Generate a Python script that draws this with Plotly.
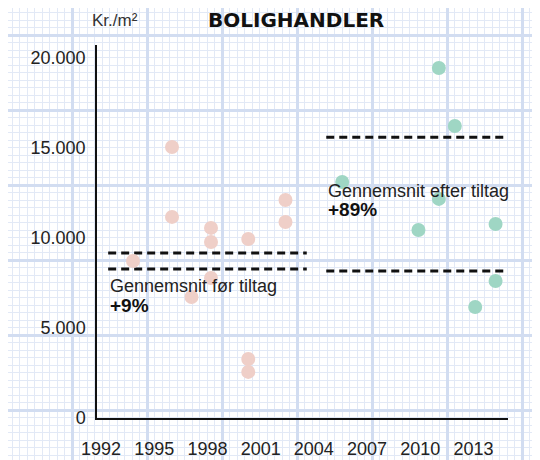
import plotly.graph_objects as go

# ---- data ----
years_before = [1993.8, 1996.0, 1996.0, 1997.1, 1998.2, 1998.2, 1998.2, 2000.3, 2000.3, 2000.3, 2002.4, 2002.4]
prices_before = [8720, 15050, 11170, 6720, 10560, 9780, 7780, 9940, 3280, 2560, 12110, 10890]

years_after = [2005.6, 2009.9, 2011.05, 2011.05, 2011.95, 2013.1, 2014.25, 2014.25]
prices_after = [13110, 10440, 19440, 12170, 16220, 6170, 10780, 7610]

span_before = [1992.4, 2003.6]
avg_lines_before = [9170, 8280]
span_after = [2004.7, 2014.95]
avg_lines_after = [15600, 8170]

x_ticks = [1992, 1995, 1998, 2001, 2004, 2007, 2010, 2013]
y_ticks = [0, 5000, 10000, 15000, 20000]
y_tick_text = ["0", "5.000", "10.000", "15.000", "20.000"]

# The page body has an 8px margin, so the figure is drawn 8px in from the window edge.
OFF = 8
W, H = 540 - OFF, 460 - OFF
FONT = "Liberation Sans, Arial, sans-serif"


def px(sx):
    """screen x -> paper fraction"""
    return (sx - OFF) / W


def py(sy):
    """screen y (from top) -> paper fraction"""
    return 1 - (sy - OFF) / H


fig = go.Figure()

# invisible trace to hold the graph-paper background axes
fig.add_trace(go.Scatter(x=[0], y=[0], mode="markers", marker=dict(opacity=0),
                         hoverinfo="skip", showlegend=False, xaxis="x", yaxis="y"))

for v in avg_lines_before:
    fig.add_trace(go.Scatter(x=span_before, y=[v, v], mode="lines",
                             line=dict(color="#111111", width=3, dash="8px,5px"),
                             showlegend=False, hoverinfo="skip", xaxis="x2", yaxis="y2"))
for v in avg_lines_after:
    fig.add_trace(go.Scatter(x=span_after, y=[v, v], mode="lines",
                             line=dict(color="#111111", width=3, dash="8px,5px"),
                             showlegend=False, hoverinfo="skip", xaxis="x2", yaxis="y2"))

fig.add_trace(go.Scatter(x=years_before, y=prices_before, mode="markers",
                         marker=dict(size=14, color="#efcfc8"),
                         showlegend=False, xaxis="x2", yaxis="y2"))
fig.add_trace(go.Scatter(x=years_after, y=prices_after, mode="markers",
                         marker=dict(size=14, color="#9fd6c4"),
                         showlegend=False, xaxis="x2", yaxis="y2"))

ann_font = dict(family=FONT, size=18, color="#222222")
bold_font = dict(family=FONT, size=19, color="#111111")

annotations = [
    dict(text="BOLIGHANDLER", xref="paper", yref="paper", x=px(296), y=py(20),
         xanchor="center", yanchor="middle", showarrow=False,
         font=dict(family="DejaVu Sans, sans-serif", size=20, color="#111111", weight="bold")),
    dict(text="Kr./m²", xref="paper", yref="paper", x=px(90), y=py(20),
         xanchor="left", yanchor="middle", showarrow=False,
         font=dict(family=FONT, size=17, color="#333333")),
    dict(text="Gennemsnit før tiltag", xref="x2", yref="y2", x=span_before[0], y=7333,
         xanchor="left", yanchor="middle", showarrow=False, font=ann_font),
    dict(text="<b>+9%</b>", xref="x2", yref="y2", x=span_before[0], y=6250,
         xanchor="left", yanchor="middle", showarrow=False, font=bold_font),
    dict(text="Gennemsnit efter tiltag", xref="x2", yref="y2", x=span_after[0], y=12610,
         xanchor="left", yanchor="middle", showarrow=False, font=ann_font),
    dict(text="<b>+89%</b>", xref="x2", yref="y2", x=span_after[0], y=11580,
         xanchor="left", yanchor="middle", showarrow=False, font=bold_font),
]

fig.update_layout(
    template="none",
    width=W, height=H,
    margin=dict(l=0, r=0, t=0, b=0, pad=0, autoexpand=False),
    paper_bgcolor="white", plot_bgcolor="rgba(0,0,0,0)",
    showlegend=False,
    annotations=annotations,
    # graph-paper background (ranges in screen pixels)
    xaxis=dict(domain=[0, 1], range=[OFF, 540], fixedrange=True, automargin=False,
               showgrid=True, gridcolor="#d2ddf1", gridwidth=2.5, tick0=-3, dtick=75,
               minor=dict(showgrid=True, gridcolor="#e2e9f6", gridwidth=1, tick0=-3, dtick=7.5),
               showticklabels=False, zeroline=False, showline=False, ticks=""),
    yaxis=dict(domain=[0, 1], range=[460, OFF], fixedrange=True, automargin=False,
               showgrid=True, gridcolor="#d2ddf1", gridwidth=2.5, tick0=35, dtick=75,
               minor=dict(showgrid=True, gridcolor="#e2e9f6", gridwidth=1, tick0=35, dtick=7.5),
               showticklabels=False, zeroline=False, showline=False, ticks=""),
    # data axes
    xaxis2=dict(domain=[px(97), px(508)], anchor="y2", range=[1991.77, 2014.95], automargin=False,
                tickvals=x_ticks, ticktext=[str(t) for t in x_ticks],
                showgrid=False, zeroline=False, showline=True, linecolor="#111111", linewidth=1.5,
                ticks="", ticklabelstandoff=14,
                tickfont=dict(family=FONT, size=18, color="#222222")),
    yaxis2=dict(domain=[py(418), py(45)], anchor="x2", range=[0, 20720], automargin=False,
                tickvals=y_ticks, ticktext=y_tick_text,
                showgrid=False, zeroline=False, showline=True, linecolor="#111111", linewidth=1.5,
                ticks="", ticklabelstandoff=6,
                tickfont=dict(family=FONT, size=18, color="#222222")),
)

fig.write_html("out.html")
